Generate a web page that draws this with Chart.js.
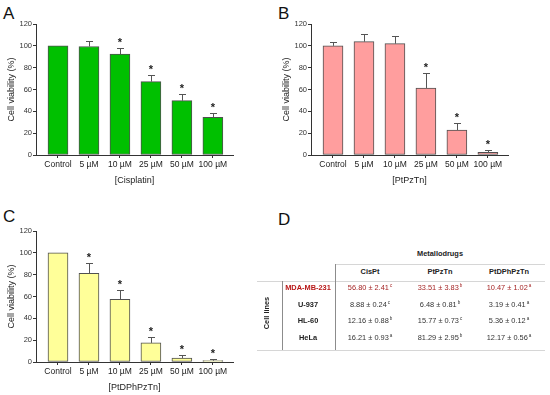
<!DOCTYPE html>
<html>
<head>
<meta charset="utf-8">
<script src="https://cdn.jsdelivr.net/npm/chart.js@4.4.0/dist/chart.umd.min.js"></script>
<style>
  html, body { margin:0; padding:0; background:#fff; width:550px; height:395px; overflow:hidden; }
  body { position:relative; font-family: Arial, "Liberation Sans", sans-serif; color:#222; }
  canvas { position:absolute; }
  .lbl { position:absolute; font-size:17px; line-height:17px; color:#111; }
  .t { position:absolute; white-space:nowrap; line-height:1; transform:translate(-50%,-50%); font-size:7.4px; color:#333; }
  .b { font-weight:bold; color:#222; }
  .red { color:#a52525; }
  .redb { color:#b81818; font-weight:bold; }
  .t sup { font-size:4.5px; vertical-align:3px; margin-left:1px; }
  .hl { position:absolute; height:1px; background:#d6d6d6; }
  .vl { position:absolute; width:1px; background:#8c8c8c; }
</style>
</head>
<body>
<div class="lbl" style="left:3px;top:5px;">A</div>
<div class="lbl" style="left:278px;top:5px;">B</div>
<div class="lbl" style="left:3px;top:208px;">C</div>
<div class="lbl" style="left:278px;top:211px;">D</div>
<canvas id="cA" width="275" height="195" style="left:0;top:0;"></canvas>
<canvas id="cB" width="275" height="195" style="left:275px;top:0;"></canvas>
<canvas id="cC" width="275" height="195" style="left:0;top:207px;"></canvas>
<div id="table"></div>
<script>
// ---- data ----
const categories = ['Control', '5 µM', '10 µM', '25 µM', '50 µM', '100 µM'];
const yTicks = [0, 20, 40, 60, 80, 100, 120];

const cisplatinMean = [100, 99.4, 92.4, 67.2, 49.8, 34.5];
const cisplatinSD   = [0, 4.6, 5.8, 6.4, 6.4, 4.3];
const cisplatinSig  = [false, false, true, true, true, true];

const ptpztnMean = [100, 103.8, 102, 61.4, 22.9, 2.5];
const ptpztnSD   = [3.8, 7.2, 7.0, 13.4, 6.1, 2.1];
const ptpztnSig  = [false, false, false, true, true, true];

const ptdphpztnMean = [100, 81.2, 57.4, 17.5, 3.7, 1.2];
const ptdphpztnSD   = [0, 9.9, 8.3, 5.8, 2.5, 1.3];
const ptdphpztnSig  = [false, true, true, true, true, true];

const cellLines = ['MDA-MB-231', 'U-937', 'HL-60', 'HeLa'];
const drugs = ['CisPt', 'PtPzTn', 'PtDPhPzTn'];
const ic50 = [[56.80, 33.51, 10.47], [8.88, 6.48, 3.19], [12.16, 15.77, 5.36], [16.21, 81.29, 12.17]];
const ic50SD = [[2.41, 3.83, 1.02], [0.24, 0.81, 0.41], [0.88, 0.73, 0.12], [0.93, 2.95, 0.56]];
const ic50Letters = [['c', 'b', 'a'], ['c', 'b', 'a'], ['b', 'c', 'a'], ['a', 'b', 'a']];

// ---- charts ----
const FAM = 'Arial, "Liberation Sans", sans-serif';

const errPlugin = {
  id: 'errbars',
  afterDatasetsDraw(chart, args, opts) {
    const ctx = chart.ctx, xs = chart.scales.x, ys = chart.scales.y;
    ctx.save();
    opts.mean.forEach((m, i) => {
      const x = xs.getPixelForValue(i);
      const top = m + (opts.sd[i] || 0);
      const yb = ys.getPixelForValue(m), yt = ys.getPixelForValue(top);
      if (opts.sd[i] > 0) {
        ctx.strokeStyle = '#555';
        ctx.lineWidth = 1;
        ctx.beginPath();
        ctx.moveTo(Math.round(x) + 0.5, yb);
        ctx.lineTo(Math.round(x) + 0.5, Math.round(yt) + 0.5);
        ctx.moveTo(Math.round(x) - 3, Math.round(yt) + 0.5);
        ctx.lineTo(Math.round(x) + 4, Math.round(yt) + 0.5);
        ctx.stroke();
      }
      if (opts.sig[i]) {
        ctx.fillStyle = '#222';
        ctx.font = 'bold 11px ' + FAM;
        ctx.textAlign = 'center';
        ctx.textBaseline = 'alphabetic';
        ctx.fillText('*', x, yt - 2);
      }
    });
    ctx.restore();
  }
};

function makeChart(id, mean, sd, sig, fill, xTitle) {
  return new Chart(document.getElementById(id), {
    type: 'bar',
    data: {
      datasets: [{
        data: mean.map((v, i) => ({ x: i, y: v })),
        backgroundColor: fill,
        borderColor: '#505050',
        borderWidth: 1,
        borderSkipped: false,
        barThickness: 20
      }]
    },
    options: {
      responsive: false,
      animation: false,
      devicePixelRatio: 1,
      layout: { padding: { left: 0, right: 42, top: 24, bottom: 0 } },
      plugins: {
        legend: { display: false },
        tooltip: { enabled: false },
        errbars: { mean: mean, sd: sd, sig: sig }
      },
      scales: {
        x: {
          type: 'linear', min: -0.71, max: 5.65, offset: false,
          afterBuildTicks: s => { s.ticks = categories.map((_, i) => ({ value: i })); },
          afterFit: s => { s.height = 40; },
          ticks: { callback: v => categories[v], autoSkip: false, maxRotation: 0, minRotation: 0,
                   font: { size: 8.5, family: FAM }, color: '#222', padding: 2 },
          grid: { display: true, drawOnChartArea: false, drawTicks: true, tickLength: 3, tickColor: '#333', offset: false },
          border: { display: true, color: '#333', width: 1 },
          title: { display: true, text: xTitle, font: { size: 9, family: FAM }, color: '#222', padding: { top: 0, bottom: 9 } }
        },
        y: {
          min: 0, max: 120,
          afterBuildTicks: s => { s.ticks = yTicks.map(v => ({ value: v })); },
          afterFit: s => { s.width = 36; },
          ticks: { font: { size: 7.5, family: FAM }, color: '#333', padding: 1 },
          grid: { display: true, drawOnChartArea: false, drawTicks: true, tickLength: 3, tickColor: '#333' },
          border: { display: true, color: '#333', width: 1 },
          title: { display: true, text: 'Cell viability (%)', font: { size: 9, family: FAM }, color: '#222', padding: { top: 6.6, bottom: 0 } }
        }
      }
    },
    plugins: [errPlugin]
  });
}

makeChart('cA', cisplatinMean, cisplatinSD, cisplatinSig, '#00c000', '[Cisplatin]');
makeChart('cB', ptpztnMean, ptpztnSD, ptpztnSig, '#ff9e9e', '[PtPzTn]');
makeChart('cC', ptdphpztnMean, ptdphpztnSD, ptdphpztnSig, '#ffff99', '[PtDPhPzTn]');

// ---- table D ----
(function () {
  const root = document.getElementById('table');
  const colX = [370, 440, 509];
  const rowY = [288, 305, 321, 338];
  let html = '';
  html += '<div class="t b" style="left:440px;top:254px;">Metallodrugs</div>';
  html += '<div class="hl" style="left:335px;top:264px;width:210px;"></div>';
  drugs.forEach((d, j) => { html += `<div class="t b" style="left:${colX[j]}px;top:272px;">${d}</div>`; });
  html += '<div class="hl" style="left:257px;top:281px;width:288px;"></div>';
  html += '<div class="hl" style="left:257px;top:350px;width:288px;"></div>';
  html += '<div class="vl" style="left:282px;top:281px;height:69px;"></div>';
  html += '<div class="vl" style="left:335px;top:264px;height:86px;"></div>';
  html += '<div class="t b" style="left:267px;top:313px;transform:translate(-50%,-50%) rotate(-90deg);">Cell lines</div>';
  cellLines.forEach((c, i) => {
    html += `<div class="t ${i === 0 ? 'redb' : 'b'}" style="left:308px;top:${rowY[i]}px;">${c}</div>`;
    drugs.forEach((d, j) => {
      html += `<div class="t ${i === 0 ? 'red' : ''}" style="left:${colX[j]}px;top:${rowY[i]}px;">${ic50[i][j].toFixed(2)} ± ${ic50SD[i][j].toFixed(2)}<sup>${ic50Letters[i][j]}</sup></div>`;
    });
  });
  root.innerHTML = html;
})();
</script>
</body>
</html>
